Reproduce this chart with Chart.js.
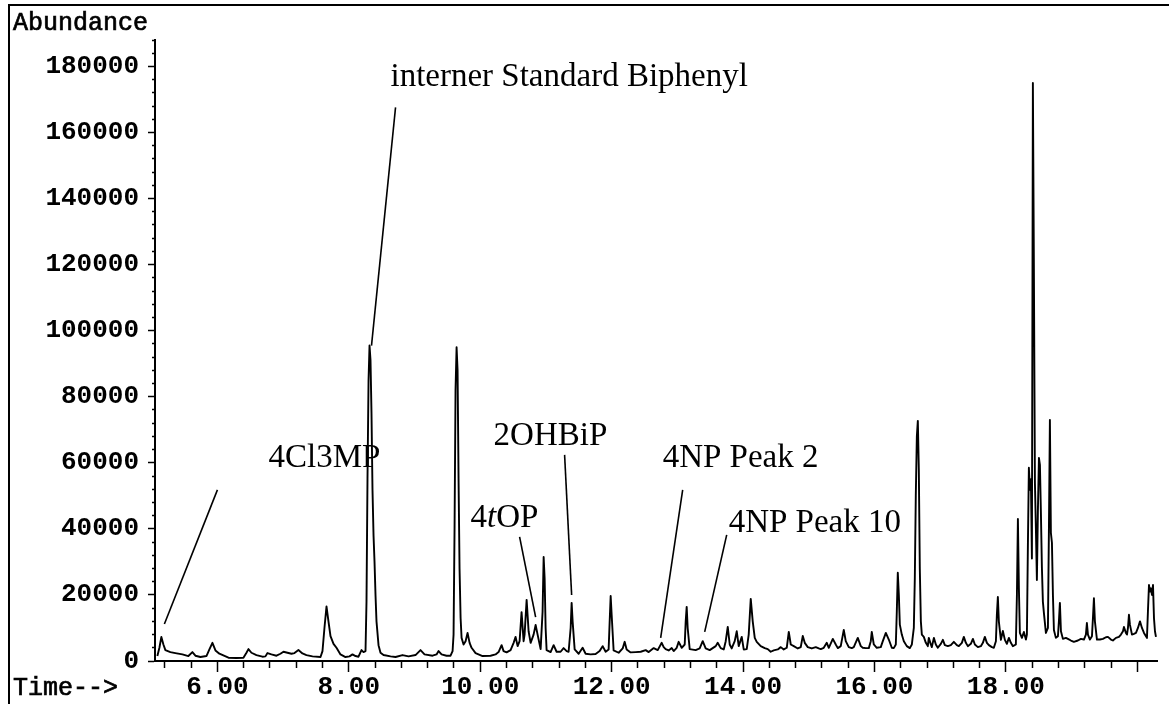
<!DOCTYPE html>
<html>
<head>
<meta charset="utf-8">
<title>TIC</title>
<script src="https://cdn.jsdelivr.net/npm/chart.js@4.4.0/dist/chart.umd.min.js"></script>
<style>
  html, body { margin: 0; padding: 0; background: #fff; }
  #wrap { position: relative; width: 1169px; height: 704px; }
</style>
</head>
<body>
<div id="wrap"><canvas id="tic"></canvas></div>
<script>
// Total ion chromatogram (time in min, abundance in counts)
const retentionTime = [
    5.086, 5.117, 5.147, 5.178, 5.208, 5.284, 5.360, 5.467, 5.558, 5.619,
    5.665, 5.741, 5.833, 5.878, 5.924, 5.970, 6.030, 6.168, 6.289, 6.396,
    6.442, 6.472, 6.518, 6.594, 6.685, 6.731, 6.762, 6.822, 6.899, 6.959,
    7.005, 7.066, 7.127, 7.173, 7.233, 7.294, 7.355, 7.447, 7.569, 7.599,
    7.629, 7.660, 7.690, 7.721, 7.767, 7.812, 7.873, 7.949, 8.010, 8.056,
    8.102, 8.147, 8.193, 8.223, 8.254, 8.269, 8.284, 8.300, 8.315, 8.330,
    8.345, 8.360, 8.376, 8.391, 8.406, 8.421, 8.452, 8.482, 8.528, 8.635,
    8.711, 8.817, 8.909, 9.015, 9.091, 9.152, 9.274, 9.335, 9.366, 9.411,
    9.487, 9.548, 9.579, 9.594, 9.609, 9.624, 9.640, 9.655, 9.670, 9.685,
    9.701, 9.716, 9.746, 9.777, 9.807, 9.838, 9.868, 9.929, 10.035, 10.157,
    10.233, 10.279, 10.325, 10.355, 10.401, 10.462, 10.508, 10.538, 10.569, 10.599,
    10.629, 10.660, 10.675, 10.706, 10.736, 10.767, 10.812, 10.843, 10.873, 10.919,
    10.949, 10.965, 10.980, 10.995, 11.010, 11.071, 11.117, 11.162, 11.223, 11.269,
    11.315, 11.345, 11.376, 11.391, 11.406, 11.437, 11.498, 11.558, 11.604, 11.680,
    11.756, 11.817, 11.863, 11.909, 11.954, 11.970, 11.985, 12.000, 12.030, 12.107,
    12.168, 12.198, 12.228, 12.289, 12.366, 12.442, 12.518, 12.564, 12.640, 12.701,
    12.762, 12.792, 12.822, 12.868, 12.914, 12.944, 12.990, 13.020, 13.066, 13.112,
    13.127, 13.142, 13.157, 13.188, 13.279, 13.340, 13.386, 13.431, 13.492, 13.538,
    13.584, 13.614, 13.660, 13.706, 13.736, 13.767, 13.797, 13.827, 13.873, 13.904,
    13.934, 13.980, 14.010, 14.056, 14.086, 14.117, 14.147, 14.178, 14.208, 14.269,
    14.330, 14.376, 14.421, 14.467, 14.528, 14.574, 14.619, 14.665, 14.696, 14.726,
    14.772, 14.833, 14.878, 14.909, 14.939, 14.985, 15.046, 15.107, 15.152, 15.183,
    15.228, 15.274, 15.305, 15.366, 15.411, 15.442, 15.487, 15.533, 15.563, 15.609,
    15.655, 15.685, 15.746, 15.792, 15.822, 15.868, 15.914, 15.944, 15.959, 15.990,
    16.035, 16.096, 16.127, 16.173, 16.218, 16.264, 16.294, 16.325, 16.340, 16.355,
    16.371, 16.386, 16.416, 16.447, 16.492, 16.538, 16.569, 16.599, 16.614, 16.629,
    16.645, 16.660, 16.675, 16.690, 16.706, 16.721, 16.751, 16.782, 16.812, 16.827,
    16.858, 16.873, 16.904, 16.934, 16.964, 17.010, 17.041, 17.071, 17.117, 17.162,
    17.208, 17.254, 17.284, 17.330, 17.360, 17.391, 17.421, 17.467, 17.498, 17.528,
    17.574, 17.619, 17.650, 17.680, 17.711, 17.741, 17.787, 17.817, 17.848, 17.863,
    17.878, 17.893, 17.924, 17.954, 17.985, 18.015, 18.046, 18.076, 18.107, 18.152,
    18.168, 18.183, 18.198, 18.213, 18.244, 18.274, 18.305, 18.320, 18.335, 18.350,
    18.366, 18.381, 18.396, 18.411, 18.426, 18.442, 18.457, 18.472, 18.487, 18.503,
    18.518, 18.533, 18.548, 18.563, 18.579, 18.609, 18.640, 18.655, 18.670, 18.685,
    18.701, 18.716, 18.731, 18.761, 18.792, 18.807, 18.822, 18.838, 18.868, 18.914,
    18.944, 18.990, 19.035, 19.096, 19.142, 19.188, 19.218, 19.233, 19.249, 19.279,
    19.310, 19.325, 19.340, 19.355, 19.386, 19.431, 19.477, 19.523, 19.553, 19.599,
    19.629, 19.675, 19.721, 19.751, 19.782, 19.797, 19.827, 19.843, 19.858, 19.873,
    19.888, 19.919, 19.949, 19.980, 20.010, 20.041, 20.071, 20.102, 20.132, 20.147,
    20.162, 20.178, 20.193, 20.208, 20.223, 20.239, 20.254, 20.269, 20.284,
];

const abundance = [
    1500, 4000, 7300, 5000, 3300, 2700, 2400, 2000, 1500, 2700,
    1600, 1200, 1500, 3500, 5500, 3200, 2200, 1000, 900, 1000,
    2500, 3600, 2500, 1800, 1300, 1400, 2400, 2000, 1600, 2200,
    2800, 2500, 2200, 2400, 3300, 2300, 1800, 1400, 1200, 3000,
    10000, 16500, 12000, 7500, 5200, 4000, 2000, 1200, 1400, 2000,
    1500, 1300, 3300, 2700, 3000, 18000, 55000, 85000, 95500, 91000,
    75000, 52000, 38000, 30000, 20000, 12000, 4800, 2500, 1800, 1400,
    1200, 1800, 1400, 1800, 3300, 2000, 1600, 2000, 3000, 2000,
    1600, 1600, 3000, 8000, 40000, 82000, 95000, 88000, 55000, 28000,
    13000, 7000, 5000, 6000, 8500, 5500, 4000, 2400, 1500, 1600,
    2000, 2700, 4800, 3000, 2600, 3300, 5500, 7300, 4500, 6000,
    14800, 6000, 8000, 18500, 9000, 5500, 8000, 10900, 8000, 3600,
    15000, 31500, 25000, 10000, 3300, 2700, 4800, 2800, 2800, 3900,
    3000, 2800, 10000, 17600, 12000, 3500, 2200, 4000, 2200, 2000,
    2100, 3000, 4500, 2800, 3500, 12000, 19700, 14000, 3200, 2500,
    3800, 5800, 3500, 2600, 2700, 2800, 3300, 2700, 3900, 3300,
    5500, 4200, 3600, 3200, 3900, 3000, 4000, 5800, 4000, 5000,
    12000, 16400, 10000, 3600, 3300, 3800, 6000, 3800, 3300, 3900,
    4500, 5500, 3900, 3500, 6000, 10300, 5000, 3800, 6000, 9000,
    4500, 7300, 3500, 3600, 8000, 18800, 12000, 7000, 5800, 4500,
    3900, 3600, 2800, 3200, 3500, 4200, 3500, 4000, 8800, 5000,
    4500, 3800, 4200, 7600, 5500, 4200, 3800, 4200, 3800, 3600,
    4000, 5500, 4000, 6700, 5000, 3900, 4500, 9400, 6000, 4200,
    3900, 4200, 7000, 4500, 4000, 3900, 3900, 6000, 8800, 5000,
    4000, 4200, 6000, 8500, 6500, 4000, 3900, 5000, 15000, 26700,
    20000, 11000, 8000, 6000, 4500, 3900, 5000, 10000, 25000, 50000,
    68000, 72700, 58000, 28000, 12000, 8000, 7300, 5500, 4500, 7000,
    5000, 4200, 7000, 5000, 4000, 5200, 6400, 4800, 4500, 4800,
    5800, 4800, 4500, 5500, 7300, 5500, 4500, 5200, 6700, 5000,
    4200, 4500, 5500, 7300, 5500, 4800, 4200, 4000, 6000, 14000,
    19400, 12000, 6400, 9100, 6400, 5200, 7000, 5500, 4500, 5000,
    20000, 43000, 22000, 8500, 7000, 8800, 6500, 8000, 35000, 58500,
    51800, 55000, 31000, 175000, 120000, 54000, 40000, 24500, 45000, 61500,
    59400, 45000, 28500, 18000, 14500, 8500, 10000, 40000, 73000, 38800,
    35800, 20000, 9400, 7000, 7500, 12000, 17600, 9000, 6700, 7000,
    6700, 6200, 5800, 6200, 6700, 6500, 8000, 11500, 8000, 6500,
    7500, 13000, 19000, 12000, 6500, 6500, 6700, 7200, 7300, 6500,
    6200, 7000, 7300, 8000, 9000, 10300, 8500, 8000, 10000, 14000,
    11000, 8000, 8200, 8500, 10000, 12000, 10000, 8500, 7500, 7000,
    15000, 23000, 21000, 22000, 20000, 23000, 13000, 9000, 7300,
];

// Tick labels printed on the axes
const labelledTimes = [6, 8, 10, 12, 14, 16, 18];
const majorTimes = [6, 8, 10, 12, 14, 16, 18, 20];
const labelledAbundance = [0, 20000, 40000, 60000, 80000, 100000, 120000, 140000, 160000, 180000];

// Peak annotations: text anchor and leader line, in data units (min, counts)
const peakLabels = [
    { parts: [["interner Standard Biphenyl", false]], at: [8.634, 174200], from: [8.711, 167600], to: [8.345, 95500] },
    { parts: [["4Cl3MP", false]], at: [6.777, 58800], from: [6.0, 51800], to: [5.193, 11200] },
    { parts: [["2OHBiP", false]], at: [10.203, 65500], from: [11.284, 62400], to: [11.391, 20000] },
    { parts: [["4", false], ["t", true], ["OP", false]], at: [9.853, 40600], from: [10.599, 37600], to: [10.843, 13300] },
    { parts: [["4NP Peak 2", false]], at: [12.776, 58800], from: [13.081, 51800], to: [12.746, 7000] },
    { parts: [["4NP Peak 10", false]], at: [13.781, 39100], from: [13.751, 38200], to: [13.416, 8800] },
];

const monoFont = "'Liberation Mono', 'Courier New', monospace";
const serifFont = "'Liberation Serif', 'Times New Roman', serif";

const isMajorTime = (v) => majorTimes.some((t) => Math.abs(t - v) < 1e-6);
const isMajorAbundance = (v) => v % 20000 === 0;

const decorations = {
    id: "chromDecor",
    afterDraw(chart) {
        const { ctx } = chart;
        const { x, y } = chart.scales;
        ctx.save();

        // scan frame (left and top edges)
        ctx.strokeStyle = "#000";
        ctx.lineWidth = 2;
        ctx.beginPath();
        ctx.moveTo(9, 704);
        ctx.lineTo(9, 5);
        ctx.lineTo(1169, 5);
        ctx.stroke();

        // axis captions, slightly heavier than the regular mono face
        ctx.fillStyle = "#000";
        ctx.textBaseline = "alphabetic";
        ctx.textAlign = "left";
        ctx.font = `25px ${monoFont}`;
        ctx.lineWidth = 0.7;
        [["Abundance", 13, 30], ["Time-->", 13, 695]].forEach(([s, tx, ty]) => {
            ctx.fillText(s, tx, ty);
            ctx.strokeText(s, tx, ty);
        });

        ctx.lineWidth = 1.6;
        peakLabels.forEach((p) => {
            ctx.beginPath();
            ctx.moveTo(x.getPixelForValue(p.from[0]), y.getPixelForValue(p.from[1]));
            ctx.lineTo(x.getPixelForValue(p.to[0]), y.getPixelForValue(p.to[1]));
            ctx.stroke();

            let tx = x.getPixelForValue(p.at[0]);
            const ty = y.getPixelForValue(p.at[1]);
            p.parts.forEach(([s, italic]) => {
                ctx.font = `${italic ? "italic " : ""}33px ${serifFont}`;
                ctx.fillText(s, tx, ty);
                tx += ctx.measureText(s).width;
            });
        });
        ctx.restore();
    },
};

const ctx = document.getElementById("tic");

new Chart(ctx, {
    type: "line",
    data: {
        datasets: [
            {
                label: "TIC",
                data: retentionTime.map((t, i) => ({ x: t, y: abundance[i] })),
                borderColor: "#000",
                borderWidth: 1.9,
                borderJoinStyle: "round",
                pointRadius: 0,
                tension: 0,
                fill: false,
            },
        ],
    },
    options: {
        responsive: true,
        maintainAspectRatio: false,
        animation: false,
        layout: {
            padding: { top: 40, right: 12, bottom: 0, left: 0 },
        },
        scales: {
            x: {
                type: "linear",
                min: 5.05,
                max: 20.3,
                border: { color: "#000", width: 2 },
                grid: {
                    drawOnChartArea: false,
                    tickLength: 11,
                    tickColor: "#000",
                    tickWidth: 1.5,
                    tickBorderDash: (c) => (c.tick && isMajorTime(c.tick.value) ? [] : [6, 30]),
                },
                ticks: {
                    stepSize: 0.4,
                    includeBounds: false,
                    autoSkip: false,
                    maxRotation: 0,
                    minRotation: 0,
                    padding: 2,
                    color: "#000",
                    font: { family: monoFont, size: 26, weight: "bold", lineHeight: 1 },
                    callback: (value) =>
                        labelledTimes.some((t) => Math.abs(t - value) < 1e-6) ? value.toFixed(2) : "",
                },
                afterFit: (scale) => {
                    scale.height = 43;
                    scale.paddingLeft = 0;
                    scale.paddingRight = 0;
                },
            },
            y: {
                min: 0,
                max: 188000,
                border: { color: "#000", width: 2 },
                grid: {
                    drawOnChartArea: false,
                    tickLength: 7,
                    tickColor: "#000",
                    tickWidth: 1.5,
                    tickBorderDash: (c) => (c.tick && isMajorAbundance(c.tick.value) ? [] : [3, 20]),
                    tickBorderDashOffset: (c) => (c.tick && isMajorAbundance(c.tick.value) ? 0 : 19),
                },
                ticks: {
                    stepSize: 4000,
                    includeBounds: false,
                    autoSkip: false,
                    padding: 9,
                    color: "#000",
                    font: { family: monoFont, size: 26, weight: "bold", lineHeight: 1 },
                    callback: (value) => (labelledAbundance.includes(value) ? String(value) : ""),
                },
                afterFit: (scale) => {
                    scale.width = 155;
                    scale.paddingTop = 0;
                    scale.paddingBottom = 0;
                },
            },
        },
        plugins: {
            legend: { display: false },
            tooltip: { enabled: false },
        },
    },
    plugins: [decorations],
});
</script>
</body>
</html>
